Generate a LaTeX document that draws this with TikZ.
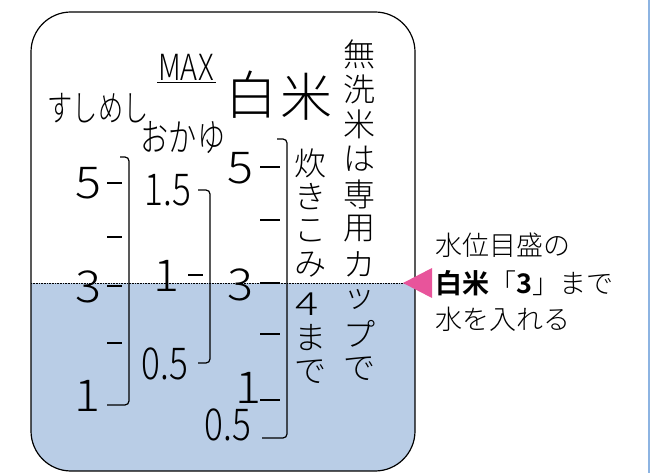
\documentclass[tikz,border=0pt]{standalone}
\usepackage{fontspec}
\setmainfont{Noto Sans CJK JP}[UprightFont=* Light, BoldFont=* Bold]
\definecolor{water}{RGB}{185,205,230}
\definecolor{marker}{RGB}{232,84,155}
\definecolor{pagerule}{RGB}{141,180,226}
\tikzset{
  num/.style={inner sep=0pt, font=\fontsize{44}{44}\selectfont, xscale=1.1},
  dec/.style={inner sep=0pt, font=\fontsize{44}{44}\selectfont, xscale=0.8},
  kana/.style={inner sep=0pt, font=\fontsize{32}{32}\selectfont},
  note/.style={inner sep=0pt, anchor=west, font=\fontsize{27}{27}\selectfont},
  tick/.style={line width=1.2pt},
  scalebar/.style={line width=1.2pt, rounded corners=4pt},
}
\begin{document}
\begin{tikzpicture}[x=1pt,y=-1pt]
        \useasboundingbox (0,0) rectangle (659,473);
        % pot and water
        \begin{scope}
          \clip[rounded corners=40pt] (31,12) rectangle (415,471);
          \fill[water] (31,283) rectangle (415,471);
        \end{scope}
        \draw[densely dotted, line width=0.6pt] (31,283) -- (415,283);
        \draw[line width=1.2pt, rounded corners=40pt] (31,12) rectangle (415,471);
        \draw[pagerule, line width=2.5pt] (649,0) -- (649,473);
        % headings
        \node[kana, font=\fontsize{36}{36}\selectfont, xscale=0.7] (sushi) at (98,108) {すしめし};
        \node[kana, font=\fontsize{38}{38}\selectfont, xscale=0.74] (okayu) at (183,138) {おかゆ};
        \node[inner sep=0pt, font=\fontsize{36}{36}\selectfont, xscale=0.8] (max) at (186,67) {MAX};
        \draw[line width=1pt] (157,83) -- (216,83);
        \node[inner sep=0pt, font=\fontsize{52}{52}\selectfont] (haku) at (251,95) {白};
        \node[inner sep=0pt, font=\fontsize{52}{52}\selectfont] (mai) at (306,97) {米};
        % scale for sushi rice
        \node[num] (s5) at (88,183) {5};
        \node[num] (s3) at (88,287) {3};
        \node[num] (s1) at (87,396) {1};
        \draw[scalebar] (120,157) -- (129,157) -- (129,405) -- (107,405);
        \foreach \y in {183,237,286,343}
          \draw[tick] (107,\y) -- (122,\y);
        % scale for porridge
        \node[dec] (k15) at (168,190) {1.5};
        \node[num] (k1) at (166,276) {1};
        \node[dec] (k05) at (165,364) {0.5};
        \draw[scalebar] (198,190) -- (210,190) -- (210,363) -- (198,363);
        \draw[tick] (188,275) -- (203,275);
        % scale for white rice
        \node[num] (h5) at (240,168) {5};
        \node[num] (h3) at (240,285) {3};
        \node[num] (h1) at (248,388) {1};
        \node[dec] (h05) at (228,425) {0.5};
        \draw[scalebar] (277,139) -- (287,139) -- (287,438) -- (262,438);
        \foreach \y in {167,220,283,334,400}
          \draw[tick] (260,\y) -- (280,\y);
        % vertical notes
        \foreach \c/\y [count=\i] in {炊/163,き/197,こ/231,み/265,ま/338,で/372}
          \node[kana] (takikomi\i) at (310,\y) {\c};
        \node[inner sep=0pt, font=\fontsize{32}{32}\selectfont, xscale=1.35] (four) at (307,304) {4};
        \foreach \c/\y [count=\i] in {無/54,洗/89,米/124,は/159,専/194,用/229,カ/264,ッ/299,プ/334,で/369}
          \node[kana] (musen\i) at (359,\y) {\c};
        % water level marker
        \fill[marker] (403,283) -- (432,268) -- (432,298) -- cycle;
        \node[note] (note1) at (435,245) {水位目盛の};
        \node[note] (note2) at (435,283) {\textbf{白米}「\textbf{3}」まで};
        \node[note] (note3) at (435,319) {水を入れる};
\end{tikzpicture}
\end{document}
